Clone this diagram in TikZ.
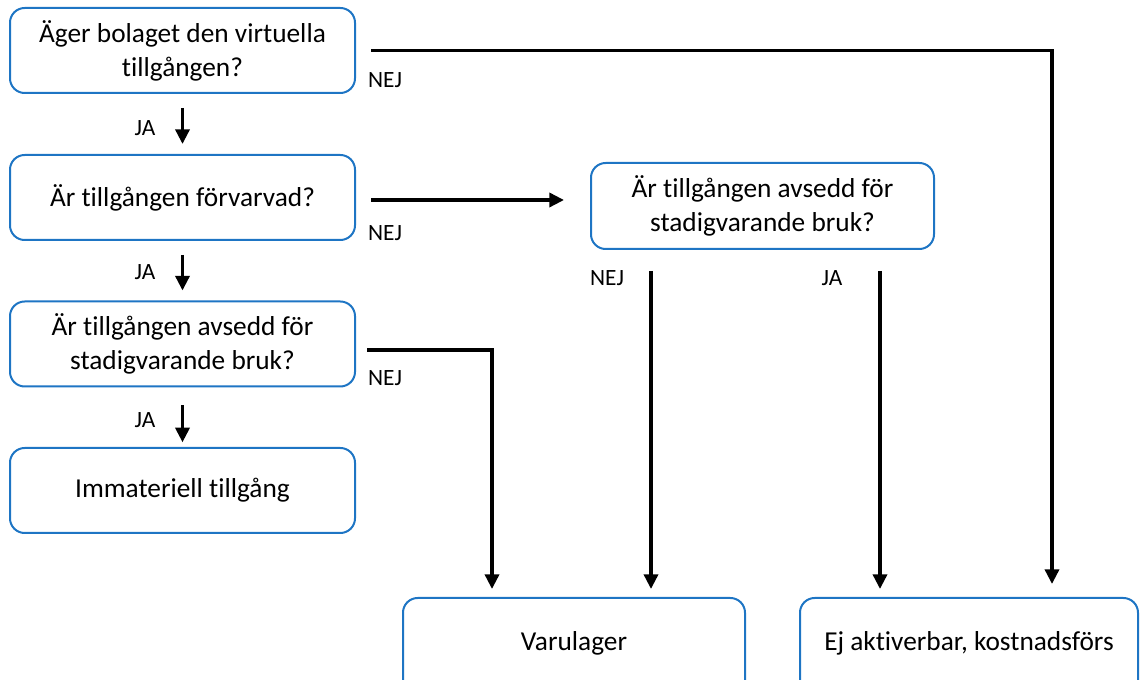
\documentclass[tikz,border=0pt]{standalone}
\usepackage{fontspec}
\setmainfont{Carlito}[Ligatures=NoCommon]
\usetikzlibrary{arrows.meta,calc}
\definecolor{boxblue}{RGB}{30,117,196}
\tikzset{
  box/.style={draw=boxblue, line width=1.5pt, rounded corners=11pt, align=center,
    font=\fontsize{20.5}{25.5}\selectfont, inner sep=2pt},
  arr/.style={line width=2.6pt, -{Triangle[length=11pt,width=10.5pt]}},
  lbl/.style={font=\fontsize{17.5}{20}\selectfont, inner sep=0pt}
}
\begin{document}
\begin{tikzpicture}[x=0.75pt,y=-0.75pt]
\useasboundingbox (0,0) rectangle (1140,680);
\clip (0,0) rectangle (1140,680);
\node[box, minimum width=258.75pt, minimum height=63.75pt] (b1) at (182.5,50.5) {Äger bolaget den virtuella\\tillgången?};
\node[box, minimum width=258.75pt, minimum height=63.75pt] (b2) at (182.5,197.5) {Är tillgången förvarvad?};
\node[box, minimum width=258.75pt, minimum height=63.75pt] (b3) at (182.5,344) {Är tillgången avsedd för\\stadigvarande bruk?};
\node[box, minimum width=258.75pt, minimum height=63.75pt] (b4) at (182.5,490.5) {Immateriell tillgång};
\node[box, minimum width=257.25pt, minimum height=64.5pt] (b5) at (762.5,206) {Är tillgången avsedd för\\stadigvarande bruk?};
\node[box, minimum width=256.5pt, minimum height=75pt] (b6) at (574,648) {};
\node[box, minimum width=253.5pt, minimum height=75pt] (b7) at (969,648) {};
\node[font=\fontsize{20.5}{25.5}\selectfont] (t6) at (574,643) {Varulager};
\node[font=\fontsize{20.5}{25.5}\selectfont] (t7) at (969,643) {Ej aktiverbar, kostnadsförs};

% JA arrows
\draw[arr, shorten <=10.5pt, shorten >=7.5pt] (b1.south) -- (b2.north);
\draw[arr, shorten <=10.5pt, shorten >=7.5pt] (b2.south) -- (b3.north);
\draw[arr, shorten <=13.5pt, shorten >=3.5pt] (b3.south) -- (b4.north);
\node[lbl] (ja1) at (145,128) {JA};
\node[lbl] (ja2) at (145,272) {JA};
\node[lbl] (ja3) at (145,420) {JA};

% NEJ from b1
\coordinate (c1) at ($(b7.north)+(83,0)$);
\draw[arr, shorten <=11.25pt, shorten >=9.75pt] (b1.east) -| (c1);
\node[lbl] (n1) at (385,80) {NEJ};

% NEJ from b2
\draw[arr, shorten <=11.25pt, shorten >=19.5pt] ($(b2.east)+(0,2.5)$) -- ($(b2.east -| b5.west)+(0,2.5)$);
\node[lbl] (n2) at (385,233) {NEJ};

% NEJ from b3
\coordinate (c3) at ($(b6.north)+(-82,0)$);
\draw[arr, shorten <=8.25pt, shorten >=6pt] ($(b3.east)+(0,6)$) -| (c3);
\node[lbl] (n3) at (385,378) {NEJ};

% from b5
\coordinate (s5a) at ($(b5.south)+(-111.5,21)$);
\coordinate (s5b) at ($(b5.south)+(117.5,21)$);
\draw[arr, shorten >=6pt] (s5a) -- (s5a |- b6.north);
\draw[arr, shorten >=6pt] (s5b) -- (s5b |- b7.north);
\node[lbl] (n5) at (607,278) {NEJ};
\node[lbl] (ja5) at (832,278) {JA};
\end{tikzpicture}
\end{document}
